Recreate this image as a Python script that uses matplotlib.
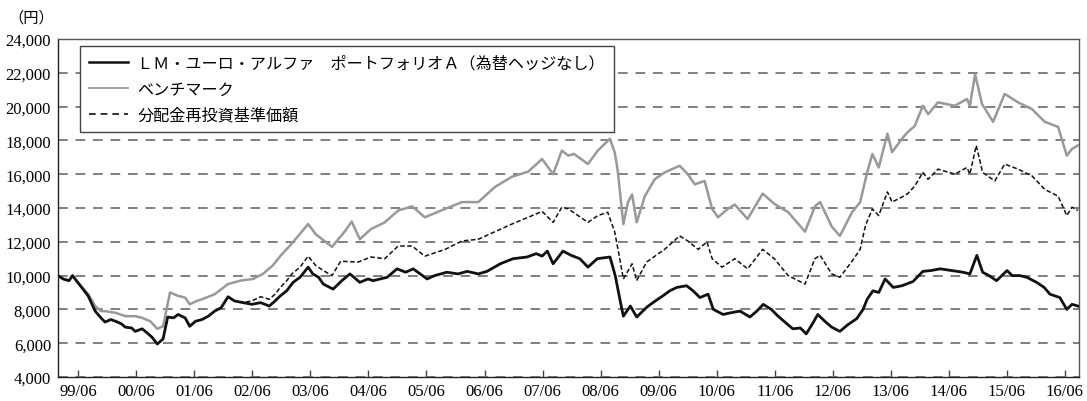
import matplotlib
matplotlib.use("Agg")
import matplotlib.pyplot as plt
from matplotlib.lines import Line2D

# decimal-year positions and values (円)
fund_t = [1999.11, 1999.20, 1999.30, 1999.36, 1999.45, 1999.63, 1999.75, 1999.85, 1999.92, 2000.02,
          2000.10, 2000.20, 2000.27, 2000.38, 2000.44, 2000.56, 2000.65, 2000.73, 2000.82, 2000.92,
          2001.00, 2001.10, 2001.18, 2001.30, 2001.38, 2001.48, 2001.59, 2001.70, 2001.81, 2001.92,
          2002.04, 2002.15, 2002.30, 2002.45, 2002.60, 2002.75, 2002.85, 2002.94, 2003.05, 2003.16,
          2003.28, 2003.42, 2003.50, 2003.60, 2003.68, 2003.85, 2004.00, 2004.14, 2004.31, 2004.45,
          2004.54, 2004.66, 2004.78, 2004.95, 2005.10, 2005.23, 2005.35, 2005.47, 2005.60, 2005.81,
          2006.00, 2006.16, 2006.35, 2006.50, 2006.73, 2006.95, 2007.19, 2007.35, 2007.45, 2007.54,
          2007.64, 2007.81, 2007.95, 2008.10, 2008.24, 2008.40, 2008.62, 2008.71, 2008.79, 2008.85,
          2008.97, 2009.08, 2009.26, 2009.40, 2009.53, 2009.65, 2009.77, 2009.94, 2010.05, 2010.17,
          2010.31, 2010.40, 2010.57, 2010.70, 2010.86, 2011.03, 2011.15, 2011.26, 2011.40, 2011.50,
          2011.65, 2011.77, 2011.90, 2012.00, 2012.10, 2012.20, 2012.32, 2012.44, 2012.58, 2012.72,
          2012.87, 2012.98, 2013.05, 2013.15, 2013.25, 2013.36, 2013.50, 2013.65, 2013.84, 2014.01,
          2014.15, 2014.31, 2014.50, 2014.70, 2014.82, 2014.94, 2015.04, 2015.15, 2015.28, 2015.46,
          2015.55, 2015.68, 2015.80, 2015.97, 2016.10, 2016.20, 2016.37, 2016.49, 2016.58, 2016.68]
fund_v = [10000, 9800, 9700, 10000, 9600, 8800, 7900, 7500, 7250, 7400,
          7300, 7150, 6950, 6900, 6700, 6850, 6600, 6350, 5950, 6250,
          7550, 7500, 7700, 7500, 7000, 7300, 7400, 7600, 7900, 8100,
          8750, 8500, 8400, 8300, 8400, 8200, 8500, 8800, 9100, 9600,
          9900, 10500, 10100, 9900, 9500, 9200, 9700, 10100, 9600, 9800,
          9700, 9800, 9900, 10400, 10200, 10400, 10100, 9800, 10000, 10200,
          10100, 10250, 10100, 10250, 10700, 11000, 11100, 11300, 11150, 11450,
          10700, 11450, 11200, 11000, 10500, 11000, 11100, 10000, 8600, 7600,
          8200, 7550, 8150, 8500, 8800, 9100, 9300, 9400, 9100, 8700,
          8900, 8000, 7700, 7800, 7900, 7550, 7900, 8300, 8000, 7650,
          7200, 6850, 6900, 6550, 7100, 7700, 7300, 6950, 6700, 7100,
          7450, 8000, 8600, 9100, 9000, 9800, 9300, 9400, 9650, 10250,
          10300, 10400, 10300, 10200, 10100, 11200, 10200, 10000, 9700, 10300,
          10000, 10000, 9900, 9600, 9300, 8900, 8700, 8000, 8300, 8200]

bench_t = [1999.11, 1999.20, 1999.30, 1999.36, 1999.45, 1999.63, 1999.75, 1999.85, 1999.92, 2000.10,
           2000.27, 2000.44, 2000.56, 2000.70, 2000.82, 2000.92, 2001.04, 2001.18, 2001.30, 2001.38,
           2001.50, 2001.59, 2001.81, 2002.04, 2002.25, 2002.47, 2002.64, 2002.81, 2002.95, 2003.10,
           2003.20, 2003.42, 2003.55, 2003.83, 2004.06, 2004.17, 2004.31, 2004.50, 2004.74, 2004.97,
           2005.21, 2005.43, 2005.78, 2006.07, 2006.35, 2006.64, 2006.93, 2007.21, 2007.45, 2007.64,
           2007.79, 2007.90, 2008.00, 2008.24, 2008.41, 2008.62, 2008.70, 2008.75, 2008.85, 2008.93,
           2009.00, 2009.08, 2009.22, 2009.39, 2009.56, 2009.82, 2009.96, 2010.08, 2010.25, 2010.38,
           2010.48, 2010.65, 2010.77, 2010.99, 2011.25, 2011.45, 2011.69, 2011.98, 2012.15, 2012.24,
           2012.44, 2012.58, 2012.79, 2012.93, 2013.05, 2013.14, 2013.25, 2013.40, 2013.48, 2013.65,
           2013.75, 2013.87, 2014.01, 2014.10, 2014.27, 2014.56, 2014.77, 2014.82, 2014.91, 2015.03,
           2015.22, 2015.42, 2015.65, 2015.89, 2016.11, 2016.34, 2016.49, 2016.58, 2016.68]
bench_v = [10000, 9800, 9700, 10000, 9600, 8900, 8200, 7900, 7900, 7800,
           7600, 7600, 7500, 7300, 6850, 7000, 9000, 8800, 8700, 8300,
           8500, 8600, 8900, 9500, 9700, 9800, 10100, 10600, 11200, 11750,
           12150, 13050, 12450, 11700, 12650, 13200, 12150, 12750, 13150, 13850,
           14100, 13450, 13950, 14350, 14350, 15250, 15850, 16150, 16900, 16000,
           17400, 17100, 17200, 16600, 17400, 18100, 17300, 16300, 13050, 14350,
           14800, 13150, 14700, 15700, 16100, 16500, 16000, 15400, 15600, 13950,
           13450, 13950, 14200, 13350, 14850, 14250, 13750, 12600, 14100, 14350,
           12900, 12350, 13750, 14350, 16100, 17200, 16400, 18400, 17300, 18100,
           18500, 18850, 20050, 19550, 20250, 20050, 20450, 20050, 21900, 20150,
           19100, 20750, 20250, 19850, 19100, 18800, 17100, 17500, 17700]

# 分配金再投資基準価額: same as the fund until the first distributions in 2002
reinv_t = fund_t[:33] + [
           2002.45, 2002.60, 2002.75, 2002.85, 2002.94, 2003.05, 2003.14, 2003.28, 2003.42, 2003.55,
           2003.68, 2003.83, 2003.98, 2004.28, 2004.50, 2004.74, 2004.97, 2005.21, 2005.43, 2005.78,
           2006.07, 2006.35, 2006.64, 2006.93, 2007.21, 2007.45, 2007.64, 2007.79, 2007.90, 2008.24,
           2008.41, 2008.58, 2008.70, 2008.78, 2008.85, 2009.00, 2009.08, 2009.25, 2009.56, 2009.82,
           2009.96, 2010.14, 2010.29, 2010.38, 2010.55, 2010.77, 2010.99, 2011.25, 2011.45, 2011.69,
           2011.98, 2012.15, 2012.24, 2012.44, 2012.58, 2012.79, 2012.93, 2013.02, 2013.14, 2013.25,
           2013.40, 2013.48, 2013.65, 2013.75, 2013.87, 2014.01, 2014.10, 2014.27, 2014.56, 2014.77,
           2014.82, 2014.93, 2015.04, 2015.25, 2015.42, 2015.65, 2015.89, 2016.11, 2016.34, 2016.49,
           2016.58, 2016.68]
reinv_v = fund_v[:33] + [
           8500, 8750, 8600, 8900, 9300, 9700, 10100, 10500, 11150, 10600,
           10300, 10000, 10850, 10800, 11100, 11000, 11750, 11750, 11150, 11550,
           12050, 12150, 12600, 13050, 13450, 13800, 13150, 14050, 13950, 13150,
           13550, 13750, 12600, 11150, 9800, 10700, 9700, 10800, 11550, 12350,
           12050, 11550, 12000, 11000, 10500, 11000, 10400, 11550, 11000, 10000,
           9500, 11000, 11200, 10100, 9900, 10850, 11550, 12950, 13950, 13550,
           14950, 14350, 14650, 14850, 15300, 16100, 15700, 16300, 16000, 16400,
           16000, 17700, 16100, 15600, 16600, 16300, 15900, 15100, 14700, 13550,
           14050, 13850]

labels = ["ＬＭ・ユーロ・アルファ　ポートフォリオＡ（為替ヘッジなし）", "ベンチマーク", "分配金再投資基準価額"]
tick_years = list(range(1999, 2017))
y_ticks = list(range(4000, 24001, 2000))

JP = ["Noto Sans CJK JP", "DejaVu Sans"]
NUM = ["Liberation Serif", "DejaVu Serif"]

fig = plt.figure(figsize=(10.87, 4.02), dpi=100)
ax = fig.add_axes([58 / 1087, 24 / 402, 1021 / 1087, 338 / 402])

ax.plot(bench_t, bench_v, color="#999999", lw=1.8, zorder=3)
ax.plot(reinv_t, reinv_v, color="#111111", lw=1.1, dashes=(3, 1.6), zorder=4)
ax.plot(fund_t, fund_v, color="#111111", lw=2.0, zorder=5)

ax.set_xlim(1999.11, 2016.70)
ax.set_ylim(4000, 24000)
ax.set_yticks(y_ticks)
ax.set_yticklabels([f"{v:,}" for v in y_ticks], fontfamily=NUM, fontsize=12)
ax.set_xticks([y + 0.458 for y in tick_years])
ax.set_xticklabels([f"{y % 100:02d}/06" for y in tick_years], fontfamily=NUM, fontsize=12)
ax.tick_params(axis="y", length=0, pad=5)
ax.tick_params(axis="x", direction="in", length=5, width=1, color="#444444", pad=4)
ax.grid(axis="y", color="#808080", lw=1.4, ls=(0, (5, 4)), zorder=1)
for side in ["left", "bottom", "top", "right"]:
    ax.spines[side].set_color("#555555")
    ax.spines[side].set_linewidth(1.0)
ax.spines["left"].set_color("#222222")
ax.spines["bottom"].set_color("#222222")

fig.text(8 / 1087, 1 - 18 / 402, "（円）", fontfamily=JP, fontsize=11, va="center", ha="left")

handles = [
    Line2D([], [], color="#111111", lw=1.8),
    Line2D([], [], color="#999999", lw=1.3),
    Line2D([], [], color="#111111", lw=1.2, dashes=(4, 3)),
]
leg = ax.legend(handles, labels, loc="upper left", bbox_to_anchor=(22 / 1021, 1 - 7 / 338),
                borderaxespad=0, frameon=True, fancybox=False, framealpha=1,
                prop={"family": JP, "size": 11.6}, handlelength=2.4, handletextpad=0.6,
                labelspacing=0.55, borderpad=0.55)
leg.get_frame().set_edgecolor("#444444")
leg.get_frame().set_linewidth(1.0)
leg.set_zorder(10)

fig.savefig("out.png", dpi=100)
